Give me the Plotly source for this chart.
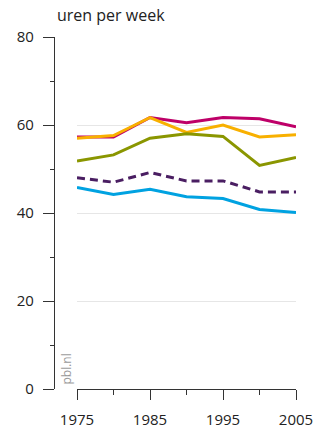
import plotly.graph_objects as go

years = [1975, 1980, 1985, 1990, 1995, 2000, 2005]
magenta = [57.3, 57.3, 61.7, 60.5, 61.7, 61.4, 59.6]
orange = [57.0, 57.6, 61.7, 58.3, 60.0, 57.3, 57.8]
olive = [51.8, 53.2, 57.0, 58.0, 57.4, 50.8, 52.6]
purple_dashed = [48.0, 47.0, 49.2, 47.3, 47.3, 44.8, 44.8]
blue = [45.8, 44.2, 45.4, 43.7, 43.3, 40.8, 40.1]

y_ticks = [0, 20, 40, 60, 80]
x_ticks = [1975, 1985, 1995, 2005]

W, H = 325, 430
ML, MR, MT, MB = 40, 29, 37, 41
PW = W - ML - MR
PH = H - MT - MB

def px_x(p):
    return (p - ML) / PW

def px_y(p):
    return (H - MB - p) / PH

fig = go.Figure()
series = [
    (magenta, "#BE0068", None),
    (orange, "#F8B000", None),
    (olive, "#8A9600", None),
    (purple_dashed, "#4A1E62", "8px,5px"),
    (blue, "#00A2E1", None),
]
for vals, col, dash in series:
    fig.add_trace(go.Scatter(
        x=years, y=vals, mode="lines",
        line=dict(color=col, width=3, dash=dash) if dash else dict(color=col, width=3),
        showlegend=False, hoverinfo="skip",
    ))

fig.update_layout(
    width=W, height=H, autosize=False,
    margin=dict(l=ML, r=MR, t=MT, b=MB, autoexpand=False),
    paper_bgcolor="white", plot_bgcolor="white",
    font=dict(family="Open Sans", size=15, color="#222"),
    xaxis=dict(
        domain=[px_x(77), 1], range=[1975, 2005], automargin=False,
        tickvals=x_ticks, ticktext=[str(v) for v in x_ticks],
        showgrid=False, zeroline=False,
        showline=True, linecolor="#333", linewidth=1.3,
        ticks="outside", ticklen=10, tickwidth=1.3, tickcolor="#333",
        minor=dict(tickvals=[1980, 1990, 2000], ticks="outside", ticklen=5, tickwidth=1.3, tickcolor="#333"),
        ticklabelstandoff=7,
        tickfont=dict(size=15),
    ),
    yaxis=dict(
        anchor="free", position=px_x(54), range=[0, 80], automargin=False,
        tickvals=y_ticks, ticktext=[str(v) for v in y_ticks],
        showgrid=True, gridcolor="#E6E6E6", gridwidth=1,
        zeroline=False,
        showline=True, linecolor="#333", linewidth=1.3,
        ticks="outside", ticklen=11, tickwidth=1.3, tickcolor="#333",
        minor=dict(tickvals=[10, 30, 50, 70], ticks="outside", ticklen=4, tickwidth=1.3, tickcolor="#333", showgrid=False),
        ticklabelstandoff=6,
        tickfont=dict(size=15),
    ),
    annotations=[
        dict(text="uren per week", x=px_x(55), y=px_y(15), xref="paper", yref="paper",
             xanchor="left", yanchor="middle", showarrow=False,
             font=dict(size=16, color="#222")),
        dict(text="pbl.nl", x=px_x(66), y=px_y(387), xref="paper", yref="paper",
             xanchor="center", yanchor="bottom", showarrow=False, textangle=-90,
             font=dict(size=12, color="#9A9A9A")),
    ],
)

fig.write_html("out.html", config={"displayModeBar": False},
               post_script="document.body.style.margin='0';document.body.style.padding='0';")
